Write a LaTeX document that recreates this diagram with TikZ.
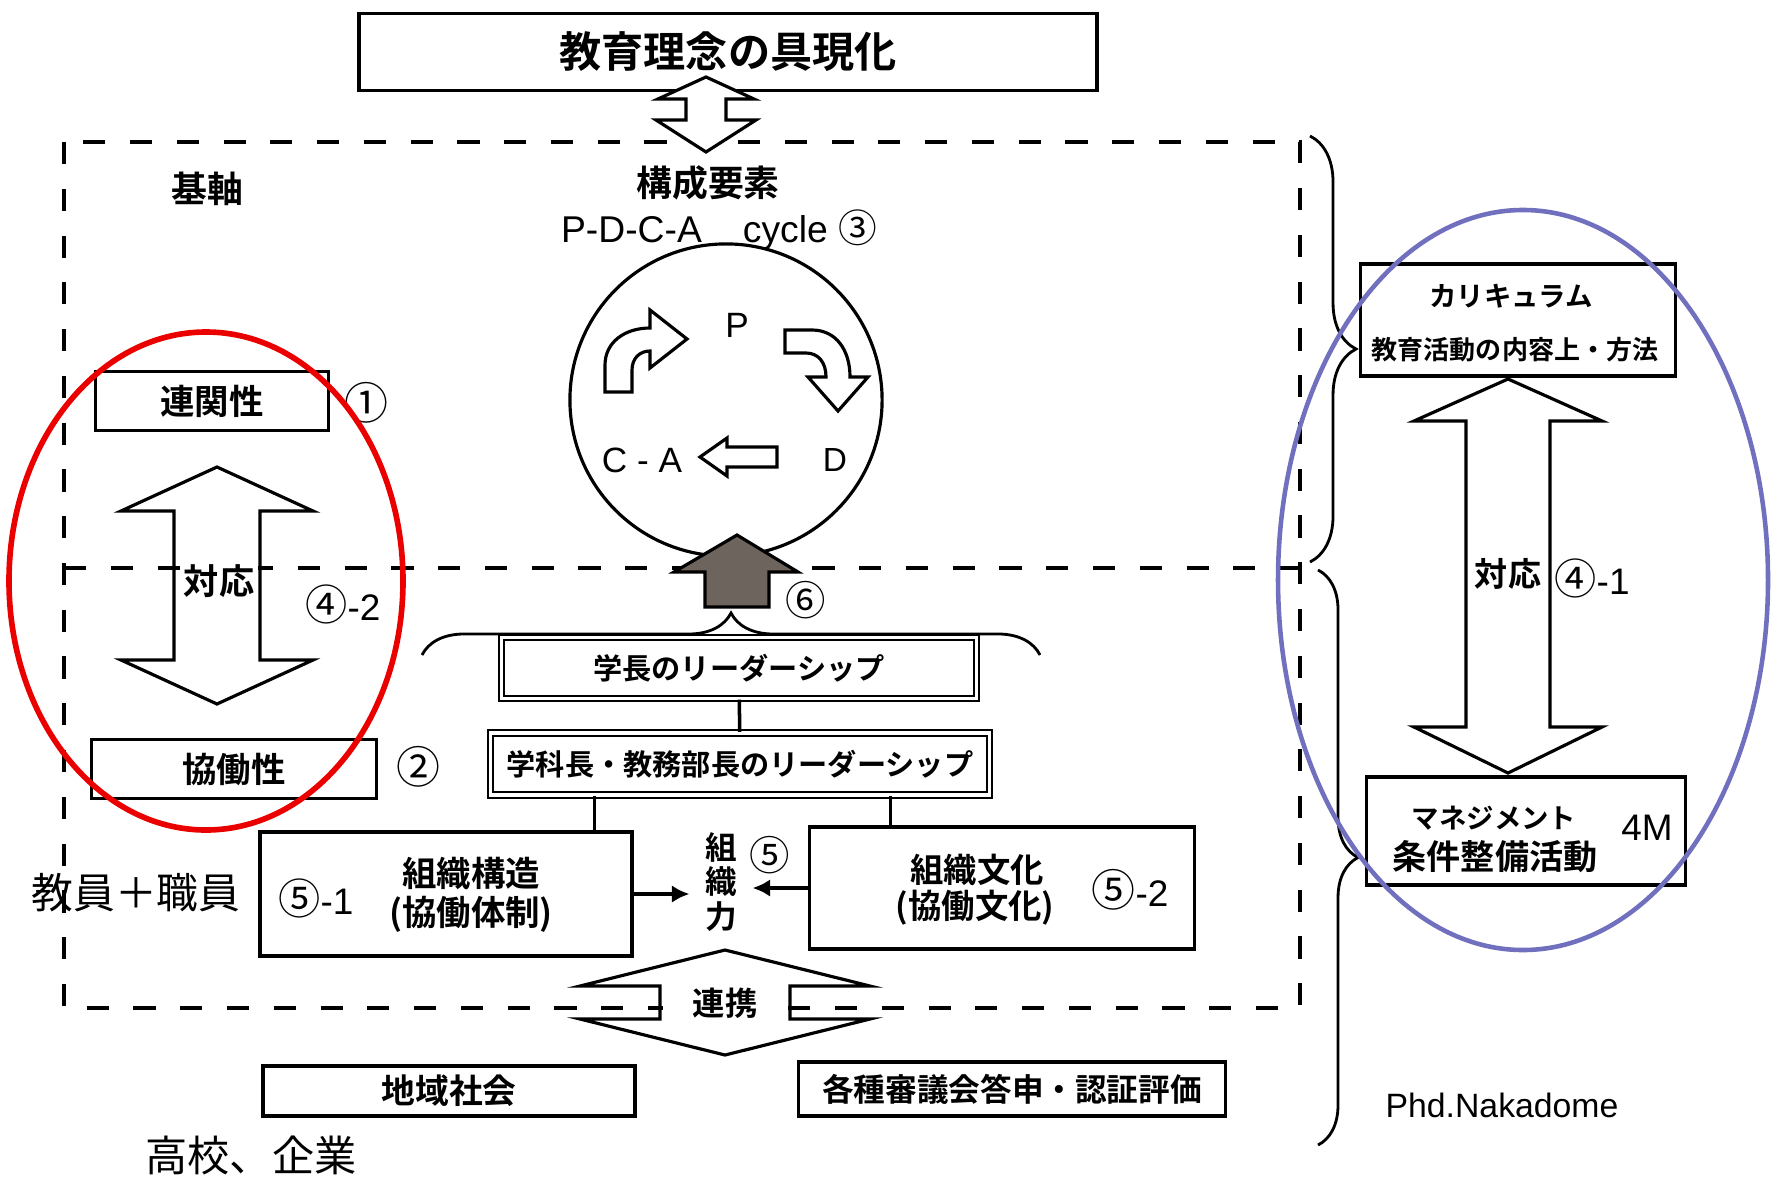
\documentclass[tikz,border=0pt]{standalone}
\usepackage{fontspec}
\setmainfont{Liberation Sans}
\newfontfamily\jp{Noto Sans CJK JP}
\newfontfamily\jpb{Noto Sans CJK JP Bold}
\usetikzlibrary{decorations.pathreplacing, calc, arrows.meta}
\definecolor{redline}{RGB}{235,0,0}
\definecolor{blueline}{RGB}{112,112,190}
\definecolor{arrowgray}{RGB}{110,100,94}
\newcommand{\jb}[1]{\jpb\fontsize{#1}{#1}\selectfont}
\newcommand{\jr}[1]{\jp\fontsize{#1}{#1}\selectfont}
\newcommand{\lr}[1]{\normalfont\fontsize{#1}{#1}\selectfont}

\begin{document}
\begin{tikzpicture}[x=0.01cm, y=-0.01cm,
        box/.style={draw, line width=1pt, inner sep=0pt},
        dbox/.style={draw, line width=0.6pt, double, double distance=0.9pt, inner sep=0pt},
        hollow/.style={draw, line width=0.9pt, line join=miter},
        dashline/.style={line width=1.1pt, dash pattern=on 6.3pt off 7pt},
        curly/.style={line width=0.8pt, decorate, decoration={brace, amplitude=#1}}]
        \useasboundingbox (0,0) rectangle (1777,1179);

        \draw[dashline] (64,142) rectangle (1300,1008);
        \draw[dashline] (64,568) -- (1300,568);

        \draw (728,52) node[box, minimum width=7.38cm, minimum height=0.77cm, font=\jb{12}] (ideal) {教育理念の具現化};
        \filldraw[hollow, fill=white] (706,77) -- (754,99) -- (726,99) -- (726,120) -- (756,120) -- (706,152) -- (656,120) -- (686,120) -- (686,99) -- (658,99) -- cycle;

        \draw (708,183) node[font=\jb{10.2}] (elem) {構成要素};
        \draw (719,230) node[font=\lr{10.6}] (pdca) {P-D-C-A\hspace{1.1em}cycle {\jr{11}③}};

        \draw (726,400) node[circle, draw, line width=0.9pt, minimum size=3.12cm, inner sep=0pt] (cyc) {};
        \draw (737,325) node[font=\lr{10}] (plan) {P};
        \draw (835,460) node[font=\lr{9.5}] (do) {D};
        \draw (642,460) node[font=\lr{10}] (check) {C - A};
        \draw[hollow] (700,457) -- (727,438) -- (727,447) -- (777,447) -- (777,467) -- (727,467) -- (727,476) -- cycle;
        \draw[hollow] (605,392) -- (605,365) .. controls (605,342) and (625,328) .. (650,328) -- (650,310) -- (687,339) -- (650,368) -- (650,351) .. controls (640,351) and (632,358) .. (632,370) -- (632,392) -- cycle;
        \draw[hollow] (785,330) -- (812,330) .. controls (836,330) and (850,350) .. (850,377) -- (868,377) -- (838,411) -- (808,377) -- (826,377) .. controls (826,362) and (818,353) .. (806,353) -- (785,353) -- cycle;

        \filldraw[draw=black, line width=0.9pt, fill=arrowgray] (737,535) -- (798,572) -- (769,572) -- (769,607) -- (705,607) -- (705,572) -- (674,572) -- cycle;
        \draw (806,600) node[font=\jr{11.5}] (six) {⑥};
        \draw[curly=0.42cm] (422,655) -- (1040,655);

        \draw (739,668) node[dbox, minimum width=4.75cm, minimum height=0.61cm, font=\jb{8.3}] (pres) {学長のリーダーシップ};
        \draw (740,764) node[dbox, minimum width=4.99cm, minimum height=0.62cm, font=\jb{8.3}] (dept) {学科長・教務部長のリーダーシップ};
        \draw[line width=1pt] (pres) -- (dept);

        \draw (446,894) node[box, minimum width=3.72cm, minimum height=1.24cm] (struct) {};
        \draw (471,874) node[font=\jb{9.8}] (structa) {組織構造};
        \draw (471,914) node[font=\jb{9.8}] (structb) {(協働体制)};
        \draw (316,898) node[font=\lr{10.5}] (s51) {{\jr{12}⑤}-1};

        \draw (1002,888) node[box, minimum width=3.85cm, minimum height=1.22cm] (cult) {};
        \draw (977,870) node[font=\jb{9.5}] (culta) {組織文化};
        \draw (975,908) node[font=\jb{9.5}] (cultb) {(協働文化)};
        \draw (1130,890) node[font=\lr{10.5}] (s52) {{\jr{12.5}⑤}-2};

        \draw[line width=1pt] ($(dept.south west)!.21!(dept.south east)$) coordinate (d1) -- (d1 |- struct.north);
        \draw[line width=1pt] ($(dept.south west)!.8!(dept.south east)$) coordinate (d2) -- (d2 |- cult.north);

        \draw (721,882) node[font={\jpb\fontsize{9}{9.7}\selectfont}, align=center, inner xsep=0.15cm, inner ysep=0pt] (power) {組\\織\\力};
        \draw (770,855) node[font=\jr{11.5}] (s5) {⑤};
        \draw[-{Latex[length=5pt, width=5pt]}, line width=1pt] (struct.east) -- (struct.east -| power.west);
        \draw[-{Latex[length=5pt, width=5pt]}, line width=1pt] (cult.west) -- (cult.west -| power.east);

        \draw (725,1003) node[fill=white, minimum width=1.24cm, minimum height=0.28cm, inner sep=0pt, font=\jb{9.2}] (link) {連携};
        \draw[hollow] (725,950) -- (870,986) -- (790,986) -- (790,1019) -- (870,1019) -- (725,1055) -- (580,1019) -- (660,1019) -- (660,986) -- (580,986) -- cycle;

        \draw (449,1091) node[box, minimum width=3.72cm, minimum height=0.5cm, font=\jb{9.6}] (local) {地域社会};
        \draw (1012,1089) node[box, minimum width=4.27cm, minimum height=0.54cm, font=\jb{9}] (council) {各種審議会答申・認証評価};

        \draw (207,189) node[font=\jb{10.2}] (axis) {基軸};
        \draw (212,401) node[box, minimum width=2.33cm, minimum height=0.59cm, font=\jb{9.8}] (rel) {連関性};
        \draw (366,403) node[font=\jr{12.5}] (c1) {①};
        \draw (234,769) node[box, minimum width=2.85cm, minimum height=0.59cm, font=\jb{9.8}] (coop) {協働性};
        \draw (418,767) node[font=\jr{12.5}] (c2) {②};
        \draw[hollow] (217,467) -- (313,511) -- (260,511) -- (260,660) -- (313,660) -- (217,704) -- (121,660) -- (174,660) -- (174,511) -- (121,511) -- cycle;
        \draw (219,581) node[fill=white, inner sep=1pt, font=\jb{10}] (corrl) {対応};
        \draw (343,604) node[font=\lr{10.5}] (c42) {{\jr{12}④}-2};

        \draw (1518,320) node[box, minimum width=3.15cm, minimum height=1.12cm] (curr) {};
        \draw (1511,296) node[font=\jb{7.8}] (curra) {カリキュラム};
        \draw (1515,350) node[font=\jb{7.4}] (currb) {教育活動の内容上・方法};
        \draw (1526,831) node[box, minimum width=3.19cm, minimum height=1.08cm] (mgmt) {};
        \draw (1494,818) node[font=\jb{7.8}] (mgmta) {マネジメント};
        \draw (1495,857) node[font=\jb{9.7}] (mgmtb) {条件整備活動};
        \draw (1647,828) node[font=\lr{10.5}] (fourm) {4M};
        \draw[hollow] (1508,379) -- (1602,421) -- (1550,421) -- (1550,727) -- (1602,727) -- (1508,773) -- (1414,727) -- (1466,727) -- (1466,421) -- (1414,421) -- cycle;
        \draw (1508,574) node[font=\jb{9.4}] (corrr) {対応};
        \draw (1592,578) node[font=\lr{10.5}] (c41) {{\jr{12}④}-1};

        \draw[curly=0.46cm] (1310,136) -- (1310,562);
        \draw[curly=0.40cm] (1318,570) -- (1318,1145);
        \draw (1502,1105) node[font=\lr{9.6}] (author) {Phd.Nakadome};

        \draw (136,893) node[font=\jr{11.9}] (staff) {教員＋職員};
        \draw (251,1155) node[font=\jr{12}] (partners) {高校、企業};

        \draw[line width=1.6pt, redline] (206,581) ellipse [x radius=197, y radius=249];
        \draw[line width=1.3pt, blueline] (1523,580) ellipse [x radius=245, y radius=370];
    \end{tikzpicture}
\end{document}
